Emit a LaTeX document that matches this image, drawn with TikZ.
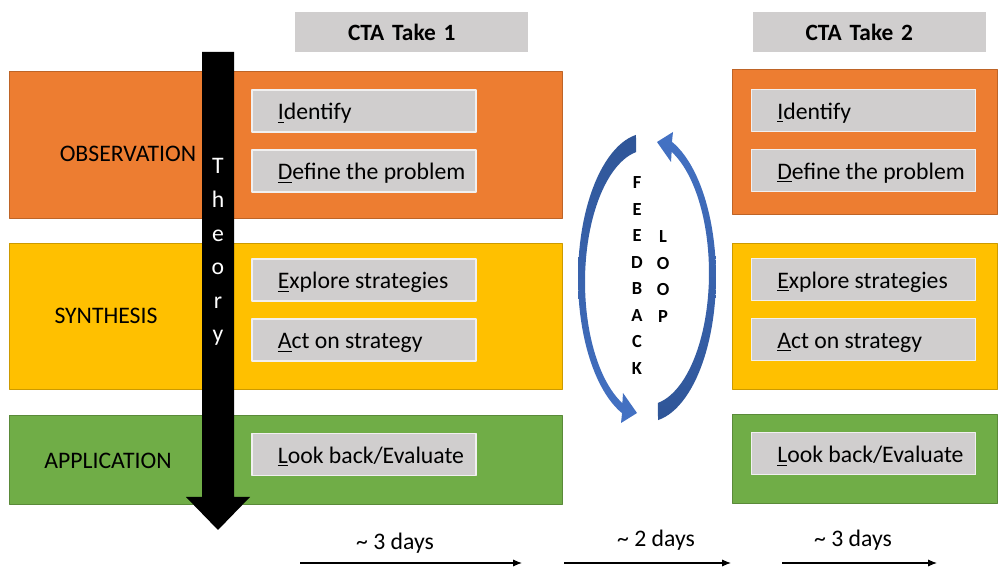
\documentclass[tikz,border=0pt]{standalone}
\usepackage{fontspec}
\setmainfont{Carlito}
\usetikzlibrary{positioning,arrows.meta}
\definecolor{obsorange}{HTML}{ED7D31}
\definecolor{synyellow}{HTML}{FFC000}
\definecolor{appgreen}{HTML}{70AD47}
\definecolor{stepgray}{HTML}{D0CECE}
\definecolor{loopblue}{HTML}{4472C4}
\definecolor{loopdark}{HTML}{2F5597}
\def\pw{0.02cm}
\begin{document}
\begin{tikzpicture}[x=0.02cm, y=-0.02cm, font=\fontsize{13.5}{16}\selectfont, line join=round,
    >={Latex[length=5pt,width=4pt]},
    band/.style={draw=#1!80!black, line width=0.4pt, fill=#1, inner sep=0pt},
    stepbox/.style={draw=white!70!stepgray, line width=0.6pt, fill=stepgray, inner sep=0pt,
        minimum width=224*\pw, minimum height=42*\pw},
    steptext/.style={inner sep=0pt, text height=12pt, text depth=2pt},
    ctabox/.style={fill=stepgray, text width=127*\pw, inner xsep=53*\pw, align=left,
        minimum height=40*\pw, font=\fontsize{13.3}{15}\bfseries},
    phase/.style={font=\fontsize{13.5}{16}\selectfont},
    letter/.style={inner sep=0pt, font=\fontsize{10.5}{12}\bfseries}]
    \useasboundingbox (0,0) rectangle (998,567);

    % column headers
    \node[ctabox] (take1) at (411.5,32) {CTA Take 1};
    \node[ctabox] (take2) at (869,32) {CTA Take 2};

    % phase bands, first take
    \node[band=obsorange, minimum width=553*\pw, minimum height=147*\pw] (obs1) at (285.5,144.5) {};
    \node[band=synyellow, minimum width=553*\pw, minimum height=146*\pw] (syn1) at (285.5,316) {};
    \node[band=appgreen, minimum width=553*\pw, minimum height=89*\pw] (app1) at (285.5,459.5) {};
    \node[phase] (obslabel) at (128,154) {OBSERVATION};
    \node[phase] (synlabel) at (106,316) {SYNTHESIS};
    \node[phase] (applabel) at (108,461) {APPLICATION};

    % phase bands, second take
    \node[band=obsorange, minimum width=265*\pw, minimum height=145*\pw] (obs2) at (864.5,141.5) {};
    \node[band=synyellow, minimum width=265*\pw, minimum height=146*\pw] (syn2) at (864.5,316) {};
    \node[band=appgreen, minimum width=265*\pw, minimum height=89*\pw] (app2) at (864.5,458.5) {};

    % steps
    \foreach \t/\xc/\dy in {1/364/0, 2/863.5/-0.7}{
        \node[stepbox] (ident\t) at (\xc,111+\dy) {};
        \node[stepbox] (define\t) at (\xc,171+\dy) {};
        \node[stepbox] (explore\t) at (\xc,280+\dy) {};
        \node[stepbox] (act\t) at (\xc,340+\dy) {};
        \node[stepbox] (look\t) at (\xc,454.5+\dy) {};
        \node[steptext, right=0.52cm of ident\t.west] {\underline{I}dentify};
        \node[steptext, right=0.52cm of define\t.west] {\underline{D}efine the problem};
        \node[steptext, right=0.52cm of explore\t.west] {\underline{E}xplore strategies};
        \node[steptext, right=0.52cm of act\t.west] {\underline{A}ct on strategy};
        \node[steptext, right=0.52cm of look\t.west] {\underline{L}ook back/Evaluate};
    }

    % theory arrow
    \fill[black] (202,52) -- (234,52) -- (234,497) -- (250,497) -- (218,530) -- (186,497) -- (202,497) -- cycle;
    \foreach \ch [count=\i] in {T,h,e,o,r,y}
        \node[white, inner sep=0pt, anchor=base] (th\i) at (218,{140.4+33.6*\i}) {\ch};

    % feedback loop
    \shade[top color=loopdark, bottom color=loopblue]
        plot[domain=99.2:248.8, samples=50] ({647+69*cos(\x)},{278-145*sin(\x)})
        -- (621,423) -- (637,413) -- (623,393)
        -- plot[domain=246.6:100.1, samples=50] ({647+62*cos(\x)},{282-132*sin(\x)}) -- cycle;
    \shade[top color=loopblue, bottom color=loopdark]
        plot[domain=279.2:428.8, samples=50] ({647+69*cos(\x)},{277-145*sin(\x)})
        -- (673,132) -- (657,142) -- (671,162)
        -- plot[domain=426.6:280.1, samples=50] ({647+62*cos(\x)},{273-132*sin(\x)}) -- cycle;
    \foreach \ch [count=\i] in {F,E,E,D,B,A,C,K}
        \node[letter] (fb\i) at (637,{156.5+26.5*\i}) {\ch};
    \foreach \ch [count=\i] in {L,O,O,P}
        \node[letter] (lp\i) at (663,{210.5+26.5*\i}) {\ch};

    % time line
    \path (300,563) coordinate (t1a) (522,563) coordinate (t1b)
          (564,563) coordinate (t2a) (731,563) coordinate (t2b)
          (782,563) coordinate (t3a) (937,563) coordinate (t3b);
    \node (days1) at (395,543) {\textasciitilde{} 3 days};
    \node (days2) at (656,540) {\textasciitilde{} 2 days};
    \node (days3) at (853,540) {\textasciitilde{} 3 days};
    \draw[->, line width=0.6pt] (t1a) -- (t1b);
    \draw[->, line width=0.6pt] (t2a) -- (t2b);
    \draw[->, line width=0.6pt] (t3a) -- (t3b);
\end{tikzpicture}
\end{document}
